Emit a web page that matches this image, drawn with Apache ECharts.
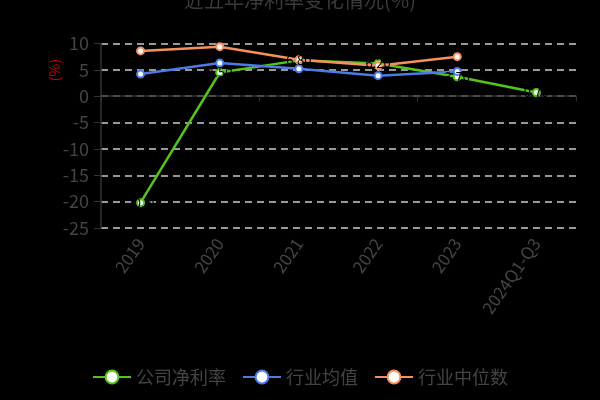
<!DOCTYPE html>
<html>
<head>
<meta charset="utf-8">
<script src="https://cdn.jsdelivr.net/npm/echarts@6/dist/echarts.min.js"></script>
<style>
  html, body { margin: 0; padding: 0; background: #000; }
  #mychart { width: 600px; height: 400px; }
</style>
</head>
<body>
<div id="mychart"></div>
<script>
// 类目
var categories = ['2019', '2020', '2021', '2022', '2023', '2024Q1-Q3'];
// 公司净利率
var companyRate = [-20.2, 4.5, 6.8, 6.2, 3.7, 0.7];
// 行业均值
var industryAvg = [4.2, 6.3, 5.2, 3.9, 4.7, null];
// 行业中位数
var industryMedian = [8.6, 9.4, 6.9, 5.8, 7.5, null];
// y轴刻度
var yMin = -25, yMax = 10, yStep = 5;

var myChart = echarts.init(document.getElementById('mychart'));
var fontFamily = '"Noto Sans CJK SC", "Noto Sans", sans-serif';

function lineSeries(name, color, data, showLabel) {
    return {
        name: name,
        type: 'line',
        xAxisIndex: 0,
        symbol: 'circle',
        symbolSize: 7,
        showSymbol: true,
        connectNulls: false,
        lineStyle: { width: 2.5, color: color },
        itemStyle: { color: '#fff', borderColor: color, borderWidth: 2 },
        label: {
            show: showLabel,
            position: 'inside',
            color: '#000',
            fontSize: 13,
            formatter: function (p) { return p.value.toFixed(2); }
        },
        data: data
    };
}

var option = {
    backgroundColor: '#000',
    textStyle: { fontFamily: fontFamily },
    animation: false,
    title: {
        text: '近五年净利率变化情况(%)',
        left: 'center',
        top: -15,
        textStyle: { color: '#3a3a3a', fontSize: 20, fontWeight: 'normal', fontFamily: fontFamily }
    },
    grid: { left: 101, right: 24, top: 43.5, bottom: 172, containLabel: false },
    legend: {
        bottom: 9,
        left: 'center',
        itemWidth: 38,
        itemHeight: 16,
        itemGap: 16,
        textStyle: { color: '#444', fontSize: 18 },
        data: ['公司净利率', '行业均值', '行业中位数']
    },
    graphic: [{
        type: 'text',
        x: 55,
        y: 70,
        rotation: Math.PI / 2,
        style: {
            text: '(%)',
            fill: '#c00',
            fontSize: 14,
            align: 'center',
            verticalAlign: 'middle',
            fontFamily: fontFamily
        }
    }],
    xAxis: [{
        // 零线上的坐标轴（只显示轴线和刻度）
        type: 'category',
        data: categories,
        boundaryGap: true,
        axisLine: { onZero: true, lineStyle: { color: '#333', width: 1.5 } },
        axisTick: { show: true, length: 5, lineStyle: { color: '#333' } },
        axisLabel: { show: false },
        splitLine: { show: false }
    }, {
        // 底部的类目标签
        type: 'category',
        data: categories,
        position: 'bottom',
        boundaryGap: true,
        axisLine: { show: false, onZero: false },
        axisTick: { show: false },
        axisLabel: { show: true, interval: 0, rotate: 55, margin: 12, color: '#444', fontSize: 17 },
        splitLine: { show: false }
    }],
    yAxis: {
        type: 'value',
        min: yMin,
        max: yMax,
        interval: yStep,
        axisLine: { show: true, lineStyle: { color: '#333', width: 1.5 } },
        axisTick: { show: true, length: 7, lineStyle: { color: '#333' } },
        axisLabel: { color: '#444', fontSize: 18, margin: 12 },
        splitLine: { show: true, lineStyle: { color: '#ccc', type: [7, 5], width: 1.5 } }
    },
    series: [
        lineSeries('公司净利率', '#52c41a', companyRate, true),
        lineSeries('行业均值', '#4b7be5', industryAvg, false),
        lineSeries('行业中位数', '#f4915f', industryMedian, false)
    ]
};
myChart.setOption(option);
</script>
</body>
</html>
